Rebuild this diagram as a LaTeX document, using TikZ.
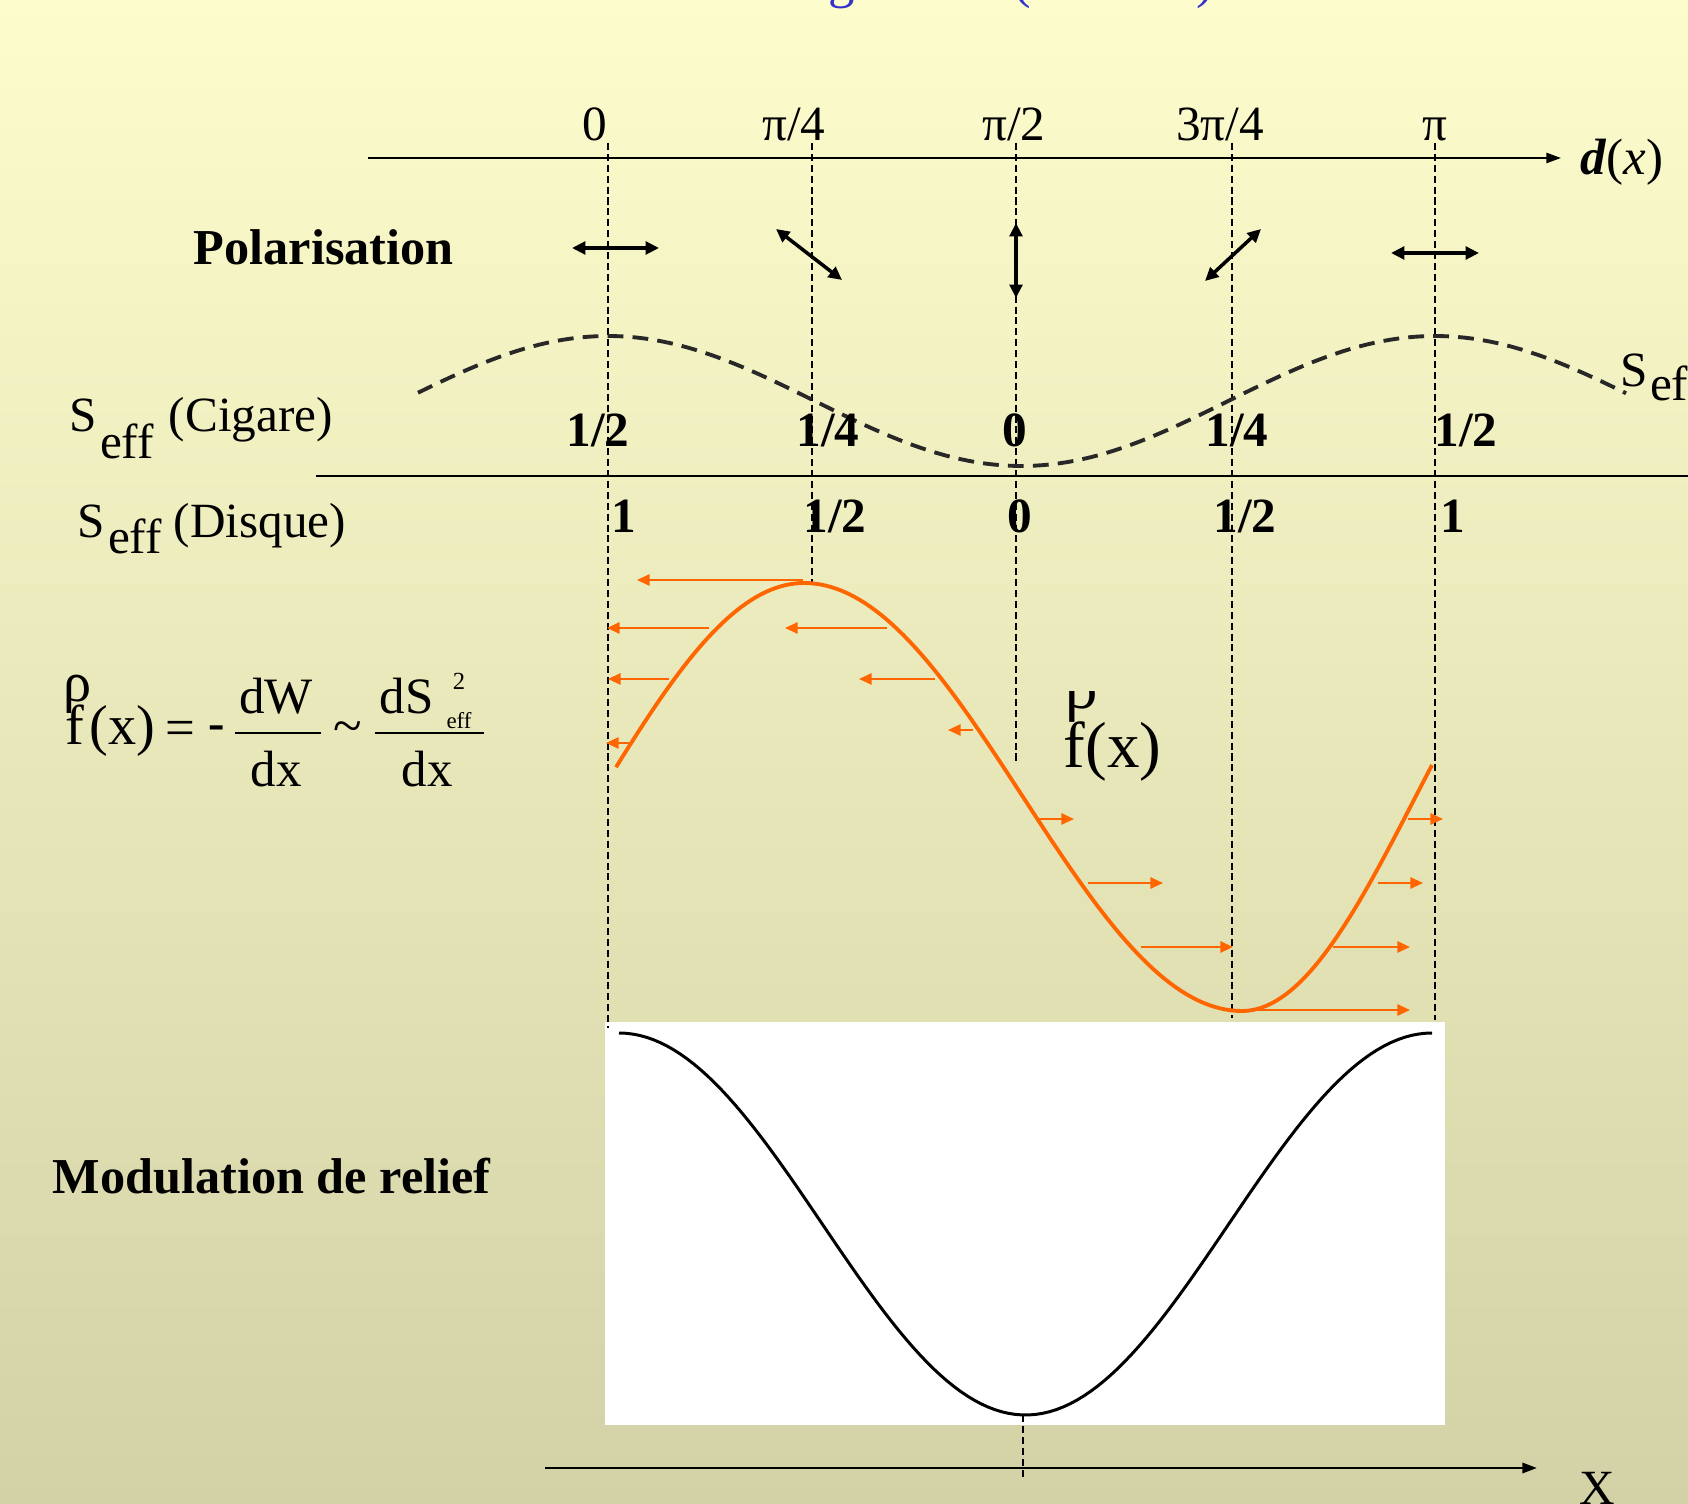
\documentclass[tikz,border=0pt]{standalone}
\usepackage{fontspec}
\setmainfont{Liberation Serif}
\usetikzlibrary{arrows.meta}

\definecolor{slidetop}{RGB}{252,252,204}
\definecolor{slidebottom}{RGB}{211,210,167}
\definecolor{forceorange}{RGB}{255,102,0}
\definecolor{titleblue}{RGB}{51,51,204}
\definecolor{curvegray}{RGB}{40,40,40}

\begin{document}
\begin{tikzpicture}[x=0.01cm, y=-0.01cm,
    axisline/.style={
      -{Triangle[length=4.2pt,width=2.9pt]},
      line width=0.6pt
    },
    guide/.style={
      line width=0.4pt,
      dash pattern=on 2pt off 1.1pt
    },
    polarrow/.style={
      {Triangle[length=3.8pt,width=3.6pt]}-{Triangle[length=3.8pt,width=3.6pt]},
      line width=1pt
    },
    force/.style={
      -{Triangle[length=3.6pt,width=3.2pt]},
      draw=forceorange, line width=0.6pt
    },
    txt/.style={inner sep=0pt, font=\fontsize{14}{16}\selectfont},
    boldtxt/.style={inner sep=0pt, font=\fontsize{14.3}{17}\selectfont\bfseries}
  ]
  \shade[top color=slidetop, bottom color=slidebottom] (0,0) rectangle (1688,1504);
  \useasboundingbox (0,0) rectangle (1688,1504);
  \clip (0,0) rectangle (1688,1504);

  % slide title, cut by the top edge
  \node[txt, anchor=base, text=titleblue, font=\fontsize{15}{18}\selectfont] (titleg) at (842,-2) {g};
  \node[txt, anchor=base, text=titleblue, font=\fontsize{15}{18}\selectfont] (titleopen) at (1022,-2) {(};
  \node[txt, anchor=base, text=titleblue, font=\fontsize{15}{18}\selectfont] (titleclose) at (1205,-2) {)};

  % relief picture
  \fill[white] (605,1022) rectangle (1445,1425);
  \draw[line width=0.85pt] plot[domain=619:1432, samples=120] (\x, {1224-191*cos((\x-619)/813*360)});

  \foreach \gx/\gy [count=\i] in {608/1028, 812/582, 1016/763, 1232/1018, 1435/1020} {
    \coordinate (gtop\i) at (\gx,143);
    \coordinate (gbot\i) at (\gx,\gy);
    \draw[guide] (gtop\i) -- (gbot\i);
  }

  % d(x) axis
  \coordinate (dstart) at (368,158);
  \coordinate (dend) at (1561,158);
  \draw[axisline] (dstart) -- (dend);
  \node[txt, anchor=base west, font=\fontsize{14.5}{17}\selectfont] (dlabel) at (1580,175) {\textbf{\textit{d}}(\textit{x})};

  \node[txt, anchor=base] (tickzero) at (595,141) {0};
  \node[txt, anchor=base] (tickquarter) at (794,141) {π/4};
  \node[txt, anchor=base] (tickhalf) at (1014,141) {π/2};
  \node[txt, anchor=base] (tickthreeq) at (1220,141) {3π/4};
  \node[txt, anchor=base] (tickpi) at (1435,141) {π};

  \node[boldtxt, anchor=base west] (poltitle) at (193,265) {Polarisation};
  \foreach \ax/\ay/\bx/\by [count=\i] in {572/248/659/248, 776/229/842/280, 1016/223/1016/298, 1261/229/1205/281, 1391/253/1479/253} {
    \coordinate (pola\i) at (\ax,\ay);
    \coordinate (polb\i) at (\bx,\by);
    \draw[polarrow] (pola\i) -- (polb\i);
  }

  % S_eff rows
  \draw[curvegray, line width=1.1pt, dash pattern=on 4.5pt off 2.6pt]
    plot[domain=418:1626, samples=150] (\x, {466-130*pow(cos((\x-608)/827*180),2)});
  \node[txt, anchor=base west] (seffright) at (1620,387) {S\kern0.02cm\raisebox{-0.13cm}{eff}};

  \node[txt, anchor=base west] (cigare) at (69,432) {S\kern0.03cm\raisebox{-0.26cm}{eff}\kern0.15cm(Cigare)};
  \node[txt, anchor=base, font=\fontsize{14}{16}\selectfont\bfseries] (cighalfa) at (598,447) {1/2};
  \node[txt, anchor=base, font=\fontsize{14}{16}\selectfont\bfseries] (cigquartera) at (828,447) {1/4};
  \node[txt, anchor=base, font=\fontsize{14}{16}\selectfont\bfseries] (cigzero) at (1015,447) {0};
  \node[txt, anchor=base, font=\fontsize{14}{16}\selectfont\bfseries] (cigquarterb) at (1237,447) {1/4};
  \node[txt, anchor=base, font=\fontsize{14}{16}\selectfont\bfseries] (cighalfb) at (1466,447) {1/2};

  \coordinate (sepstart) at (316,476);
  \coordinate (sepend) at (1688,476);
  \draw[line width=0.45pt] (sepstart) -- (sepend);

  \node[txt, anchor=base west] (disque) at (77,538) {S\kern0.03cm\raisebox{-0.15cm}{eff}\kern0.12cm(Disque)};
  \node[txt, anchor=base, font=\fontsize{14}{16}\selectfont\bfseries] (disonea) at (624,533) {1};
  \node[txt, anchor=base, font=\fontsize{14}{16}\selectfont\bfseries] (dishalfa) at (835,533) {1/2};
  \node[txt, anchor=base, font=\fontsize{14}{16}\selectfont\bfseries] (diszero) at (1020,533) {0};
  \node[txt, anchor=base, font=\fontsize{14}{16}\selectfont\bfseries] (dishalfb) at (1245,533) {1/2};
  \node[txt, anchor=base, font=\fontsize{14}{16}\selectfont\bfseries] (disoneb) at (1453,533) {1};

  % force formula
  \node[txt, anchor=base, font=\fontsize{16}{18}\selectfont] (rholeft) at (78,702) {ρ};
  \node[txt, anchor=base west, font=\fontsize{16}{18}\selectfont] (fleft) at (65,745) {f\kern0.05cm(x)};
  \node[txt, font=\fontsize{15}{18}\selectfont] (eqsign) at (180,733) {=};
  \node[txt, font=\fontsize{14}{16}\selectfont\bfseries] (minus) at (217,733) {-};
  \coordinate (barwa) at (235,733);
  \coordinate (barwb) at (321,733);
  \draw[line width=0.5pt] (barwa) -- (barwb);
  \node[txt, anchor=base, font=\fontsize{14.5}{17}\selectfont] (dw) at (276,714) {dW};
  \node[txt, anchor=base, font=\fontsize{14.5}{17}\selectfont] (dxa) at (276,787) {dx};
  \node[txt, font=\fontsize{15}{18}\selectfont] (tilde) at (348,733) {\textasciitilde};
  \coordinate (barsa) at (375,733);
  \coordinate (barsb) at (484,733);
  \draw[line width=0.5pt] (barsa) -- (barsb);
  \node[txt, anchor=base west, font=\fontsize{14.5}{17}\selectfont] (ds) at (379,714) {dS};
  \node[txt, font=\fontsize{7}{8}\selectfont] (square) at (459,681) {2};
  \node[txt, font=\fontsize{6.5}{8}\selectfont] (effsmall) at (459,721) {eff};
  \node[txt, anchor=base, font=\fontsize{14.5}{17}\selectfont] (dxb) at (427,787) {dx};

  % force profile
  \draw[forceorange, line width=1.1pt]
    plot[domain=616:804, samples=40] (\x, {797-214*cos((\x-804)/188*82)})
    -- plot[domain=804:1242, samples=80] (\x, {797-214*cos((\x-804)/438*180)})
    -- plot[domain=1242:1432, samples=40] (\x, {797-214*cos(180+(\x-1242)/190*98.6)});
  \foreach \fa/\fb/\fy [count=\i] in {803/637/580, 709/607/628, 887/785/628, 669/608/679, 935/859/679, 631/606/743, 973/948/730, 1036/1074/819, 1088/1163/883, 1141/1233/947, 1242/1410/1010, 1333/1410/947, 1378/1423/883, 1408/1443/819} {
    \coordinate (fa\i) at (\fa,\fy);
    \coordinate (fb\i) at (\fb,\fy);
    \draw[force] (fa\i) -- (fb\i);
  }

  \node[txt, anchor=base west, font=\fontsize{18.5}{22}\selectfont] (fmid) at (1063,768) {f(x)};
  \begin{scope}
    \clip (1040,692) rectangle (1130,740);
    \node[txt, anchor=base, font=\fontsize{18.5}{22}\selectfont] (rhomid) at (1082,709) {ρ};
  \end{scope}

  % relief axis
  \node[boldtxt, anchor=base west] (relief) at (52,1193) {Modulation de relief};
  \coordinate (xtop) at (1023,1415);
  \coordinate (xbot) at (1023,1478);
  \draw[guide] (xtop) -- (xbot);
  \coordinate (xstart) at (545,1468);
  \coordinate (xend) at (1537,1468);
  \draw[axisline, line width=0.8pt] (xstart) -- (xend);
  \node[txt, anchor=base] (xlabel) at (1597,1504) {X};
\end{tikzpicture}
\end{document}
